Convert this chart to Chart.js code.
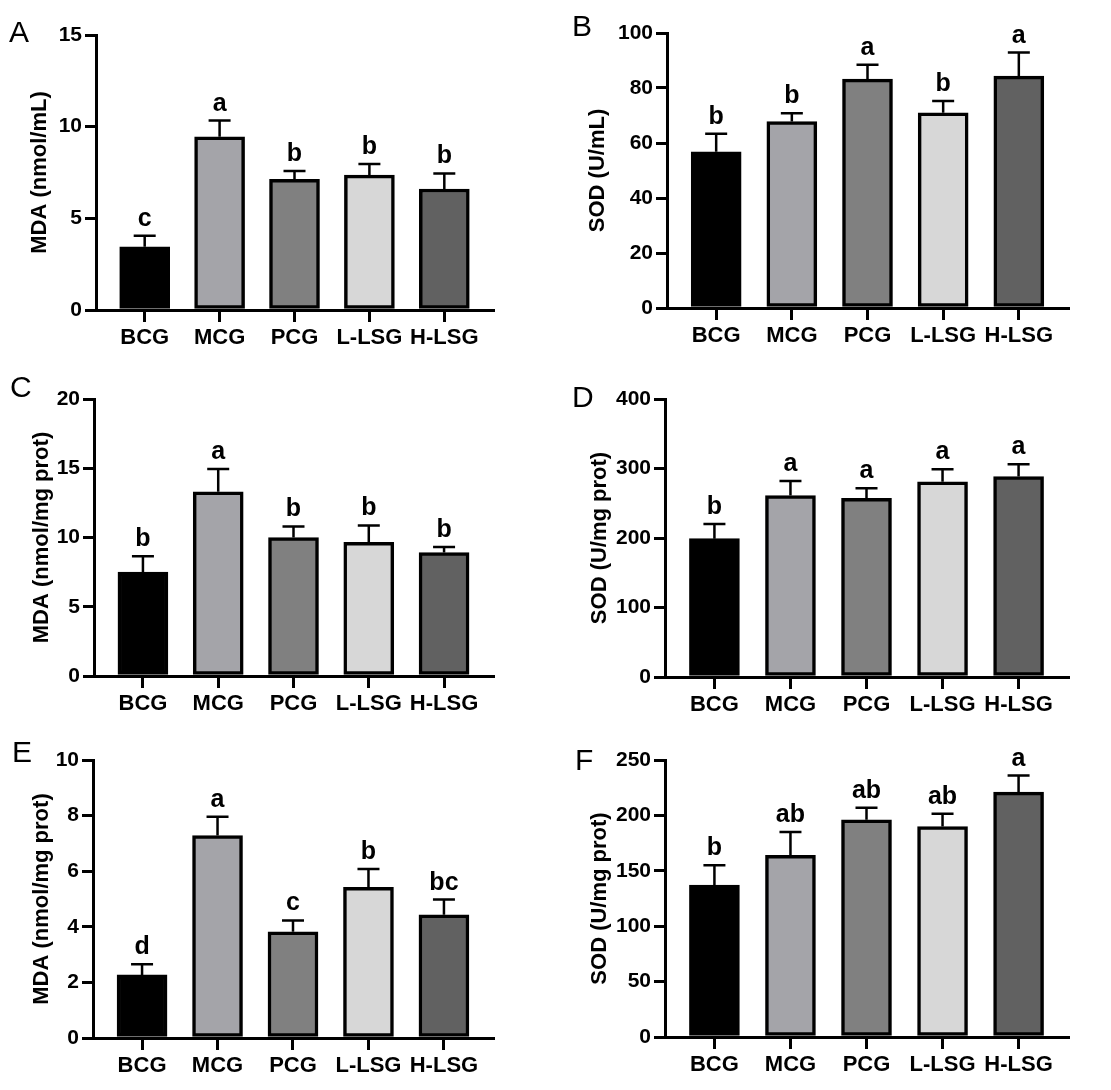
<!DOCTYPE html>
<html>
<head>
<meta charset="utf-8">
<script src="https://cdn.jsdelivr.net/npm/chart.js@4.4.1/dist/chart.umd.min.js"></script>
<style>
  body { margin: 0; background: #fff; }
  #wrap { position: relative; width: 1111px; height: 1090px; }
  .panel { position: absolute; }
</style>
</head>
<body>
<div id="wrap"></div>
<script>
// groups
const categories = ['BCG', 'MCG', 'PCG', 'L-LSG', 'H-LSG'];
const barColors = ['#000000', '#a4a4a9', '#808080', '#d7d7d7', '#616161'];

// A - serum MDA
const mdaSerum = [3.45, 9.45, 7.13, 7.36, 6.6];
const mdaSerumErr = [0.6, 0.88, 0.45, 0.6, 0.85];
const mdaSerumLetters = ['c', 'a', 'b', 'b', 'b'];

// B - serum SOD
const sodSerum = [56.8, 67.8, 83.2, 71, 84.3];
const sodSerumErr = [6.6, 3.0, 5.3, 4.3, 8.6];
const sodSerumLetters = ['b', 'b', 'a', 'b', 'a'];

// C - MDA tissue 1
const mdaTissue1 = [7.5, 13.3, 10.0, 9.65, 8.92];
const mdaTissue1Err = [1.15, 1.65, 0.8, 1.22, 0.4];
const mdaTissue1Letters = ['b', 'a', 'b', 'b', 'b'];

// D - SOD tissue 1
const sodTissue1 = [199, 261, 257, 281, 288.5];
const sodTissue1Err = [21, 21, 14.5, 18, 17.5];
const sodTissue1Letters = ['b', 'a', 'a', 'a', 'a'];

// E - MDA tissue 2
const mdaTissue2 = [2.27, 7.28, 3.82, 5.42, 4.43];
const mdaTissue2Err = [0.38, 0.68, 0.41, 0.66, 0.55];
const mdaTissue2Letters = ['d', 'a', 'c', 'b', 'bc'];

// F - SOD tissue 2
const sodTissue2 = [137, 164, 196, 190, 221];
const sodTissue2Err = [18, 21, 11, 11.5, 15];
const sodTissue2Letters = ['b', 'ab', 'ab', 'ab', 'a'];

Chart.defaults.font.family = "'Liberation Sans', Arial, sans-serif";
Chart.defaults.color = '#000';

const panels = [
    { id: 'A', x: 0, y: 0, w: 555, h: 365, area: [96, 493, 35, 310], letter: [9, 42], titleX: 40,
      title: 'MDA (nmol/mL)', max: 15, step: 5, values: mdaSerum, err: mdaSerumErr, letters: mdaSerumLetters },
    { id: 'B', x: 555, y: 0, w: 556, h: 365, area: [112, 513, 33, 308], letter: [17, 36], titleX: 43,
      title: 'SOD (U/mL)', max: 100, step: 20, values: sodSerum, err: sodSerumErr, letters: sodSerumLetters },
    { id: 'C', x: 0, y: 365, w: 555, h: 360, area: [94, 493, 34, 311], letter: [10, 32], titleX: 42,
      title: 'MDA (nmol/mg prot)', max: 20, step: 5, values: mdaTissue1, err: mdaTissue1Err, letters: mdaTissue1Letters },
    { id: 'D', x: 555, y: 365, w: 556, h: 360, area: [110, 513, 34, 312], letter: [17, 42], titleX: 45,
      title: 'SOD (U/mg prot)', max: 400, step: 100, values: sodTissue1, err: sodTissue1Err, letters: sodTissue1Letters },
    { id: 'E', x: 0, y: 725, w: 555, h: 365, area: [93, 493, 35, 313], letter: [12, 37], titleX: 42,
      title: 'MDA (nmol/mg prot)', max: 10, step: 2, values: mdaTissue2, err: mdaTissue2Err, letters: mdaTissue2Letters },
    { id: 'F', x: 555, y: 725, w: 556, h: 365, area: [110, 513, 35, 312], letter: [20, 45], titleX: 45,
      title: 'SOD (U/mg prot)', max: 250, step: 50, values: sodTissue2, err: sodTissue2Err, letters: sodTissue2Letters }
];

// error bars (upper only) + significance letters + panel letter
const errorBarPlugin = {
    id: 'errorBars',
    afterDatasetsDraw(chart, args, opts) {
        const ctx = chart.ctx;
        const yScale = chart.scales.y;
        const meta = chart.getDatasetMeta(0);
        ctx.save();
        ctx.strokeStyle = '#000';
        ctx.lineWidth = 2.5;
        ctx.fillStyle = '#000';
        ctx.textAlign = 'center';
        ctx.textBaseline = 'alphabetic';
        ctx.font = "bold 25px 'Liberation Sans', Arial, sans-serif";
        meta.data.forEach((bar, i) => {
            const top = yScale.getPixelForValue(opts.values[i] + opts.err[i]);
            ctx.beginPath();
            ctx.moveTo(bar.x, bar.y);
            ctx.lineTo(bar.x, top);
            ctx.moveTo(bar.x - 11, top);
            ctx.lineTo(bar.x + 11, top);
            ctx.stroke();
            ctx.fillText(opts.letters[i], bar.x, top - 10);
        });
        ctx.textAlign = 'left';
        ctx.font = "30px 'Liberation Sans', Arial, sans-serif";
        ctx.fillText(opts.panel, opts.letterPos[0], opts.letterPos[1]);
        ctx.restore();
    }
};

const wrap = document.getElementById('wrap');

panels.forEach(p => {
    const div = document.createElement('div');
    div.className = 'panel';
    div.style.left = p.x + 'px';
    div.style.top = p.y + 'px';
    const canvas = document.createElement('canvas');
    canvas.width = p.w;
    canvas.height = p.h;
    div.appendChild(canvas);
    wrap.appendChild(div);

    const [L, R, T, B] = p.area;
    const xAxisH = 50;

    new Chart(canvas.getContext('2d'), {
        type: 'bar',
        data: {
            datasets: [{
                data: p.values.map((v, i) => ({ x: i, y: v })),
                backgroundColor: barColors,
                borderColor: '#000',
                borderWidth: 3.5,
                borderSkipped: false,
                barThickness: 50
            }]
        },
        options: {
            responsive: false,
            animation: false,
            devicePixelRatio: 1,
            layout: {
                padding: { left: 0, top: T, right: p.w - R, bottom: p.h - B - xAxisH }
            },
            plugins: {
                legend: { display: false },
                tooltip: { enabled: false },
                errorBars: {
                    values: p.values, err: p.err, letters: p.letters,
                    panel: p.id, letterPos: p.letter
                }
            },
            scales: {
                x: {
                    type: 'linear',
                    offset: false,
                    min: -0.65,
                    max: 4.65,
                    afterBuildTicks: s => { s.ticks = categories.map((c, i) => ({ value: i })); },
                    afterFit: s => { s.height = xAxisH; },
                    border: { display: true, width: 3, color: '#000' },
                    grid: { display: true, offset: false, drawOnChartArea: false, drawTicks: true, tickLength: 12, lineWidth: 3, color: '#000' },
                    ticks: {
                        autoSkip: false,
                        maxRotation: 0,
                        padding: 3,
                        font: { size: 22, weight: 'bold' },
                        color: '#000',
                        callback: v => categories[v]
                    }
                },
                y: {
                    min: 0,
                    max: p.max,
                    afterFit: s => { s.width = L; },
                    border: { display: true, width: 3, color: '#000' },
                    grid: { display: true, drawOnChartArea: false, drawTicks: true, tickLength: 11, lineWidth: 3, color: '#000' },
                    ticks: {
                        stepSize: p.step,
                        padding: 3,
                        font: { size: 21, weight: 'bold' },
                        color: '#000'
                    },
                    title: {
                        display: true,
                        text: p.title,
                        font: { size: 22, weight: 'bold' },
                        color: '#000',
                        padding: { top: p.titleX - 13.2, bottom: 0 }
                    }
                }
            }
        },
        plugins: [errorBarPlugin]
    });
});
</script>
</body>
</html>
